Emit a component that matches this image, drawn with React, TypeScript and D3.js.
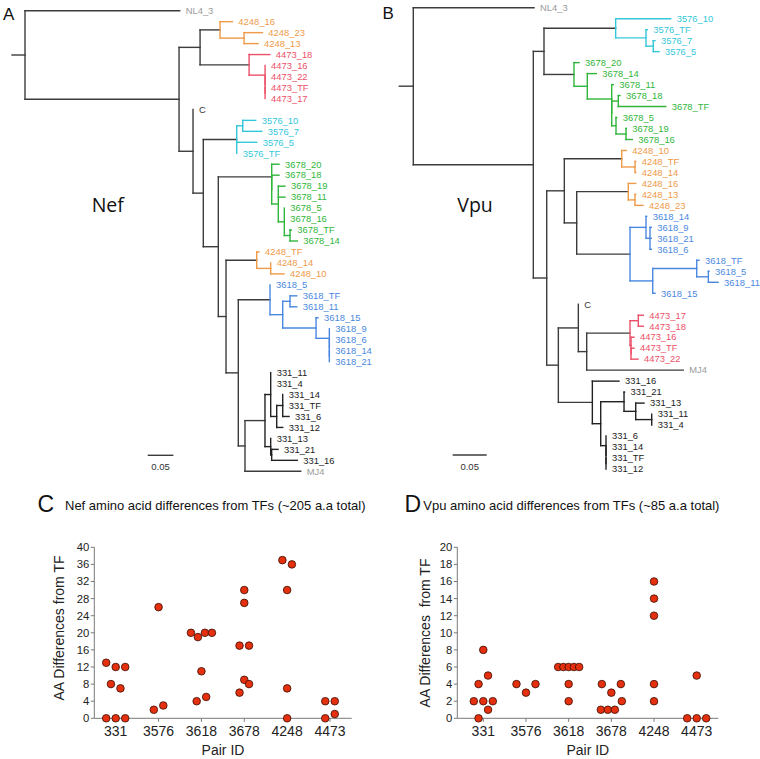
import React from "react";
import * as d3 from "d3";

// ---------- DATA ----------
// Phylogenetic trees (Newick, branch lengths in substitutions/site)
const NEF_TREE =
  "(NL4_3:0.3010,(((4248_16:0.0239,(4248_23:0.0356,4248_13:0.0272):0.0467):0.0389,(4473_18:0.0403,(4473_16:0,(4473_22:0,(4473_TF:0,4473_17:0):0):0):0.0311):0.0954):0.0409,(C:0,(((3576_10:0.0253,3576_7:0.0370):0.0117,3576_5:0.0389,3576_TF:0):0.0650,((3678_20:0.0142,(3678_18:0.0142,(3678_19:0.0130,3678_11:0.0130,(3678_5:0,3678_16:0,(3678_TF:0.0025,3678_14:0.0142):0.0111):0.0117):0.0128):0):0.1039,((4248_TF:0.0045,(4248_14:0,4248_10:0.0259):0.0272):0.0597,((3618_5:0,((3618_TF:0.0130,3618_11:0.0130):0.0142,(3618_15:0.0039,(3618_9:0,(3618_6:0,(3618_14:0,3618_21:0):0):0):0.0259):0.0648):0.0247):0.0617,(((331_11:0,331_4:0,((331_14:0,331_TF:0,331_6:0.0123):0.0117,331_12:0.0117):0.0117):0.0111,(331_13:0,(331_21:0.0123,331_16:0.0498):0.0019):0.0111):0.0389,MJ4:0.1084):0.0130):0.0239):0.0150):0.0292):0.0200):0.0272):0.2997);";

const VPU_TREE =
  "(NL4_3:0.1775,(((3576_10:0.0809,(3576_TF:0.0019,(3576_7:0.0025,3576_5:0.0084):0.0107):0.0446):0.1054,(3678_20:0.0074,(3678_14:0.0132,(3678_11:0.0024,((3678_18:0.0025,3678_TF:0.0697):0.0097,(3678_5:0.0010,(3678_19:0.0004,3678_16:0.0093):0.0147):0.0063):0):0.0359):0.0196):0.0441):0.0157,(((4248_10:0.0068,(4248_TF:0.0010,4248_14:0.0010):0.0196):0.0844,((4248_16:0.0109,(4248_13:0.0010,4248_23:0.0118):0.0098):0.0759,((3618_14:0.0010,(3618_9:0.0019,3618_21:0.0019,3618_6:0.0019):0.0059):0.0235,((3618_TF:0.0034,(3618_5:0.0010,3618_11:0.0143):0.0171):0.0647,3618_15:0.0034):0.0334):0.0784):0.0182):0.0259,((C:0,(((4473_17:0.0074,4473_18:0.0074):0.0122,(4473_16:0.0044,(4473_TF:0.0044,4473_22:0.0103):0):0.0015):0.0637,MJ4:0.1420):0.0123):0.0294,(331_16:0.0392,((331_21:0.0007,(331_13:0.0122,(331_11:0,331_4:0):0.0235):0.0172):0.0343,(331_6:0,(331_14:0,(331_TF:0,331_12:0):0):0):0.0078):0.0123):0.0500):0.0171):0.0197):0.1765);";

const SCALE_BAR = 0.05;

const PAIR_IDS = ["331", "3576", "3618", "3678", "4248", "4473"];
const NEF_DIFFS = [
  [13, 12, 12, 8, 7, 0, 0, 0],
  [26, 2, 3],
  [20, 19, 20, 20, 11, 4, 5],
  [30, 27, 17, 17, 9, 6, 8],
  [37, 36, 30, 7, 0],
  [4, 4, 0, 1],
];
const VPU_DIFFS = [
  [8, 4, 5, 2, 2, 2, 0, 1],
  [4, 3, 4],
  [6, 6, 6, 6, 6, 4, 2],
  [4, 3, 4, 1, 1, 1, 2],
  [16, 14, 12, 4, 2],
  [5, 0, 0, 0],
];
const NEF_TICKS = [0, 4, 8, 12, 16, 20, 24, 28, 32, 36, 40];
const VPU_TICKS = [0, 2, 4, 6, 8, 10, 12, 14, 16, 18, 20];

// ---------- STYLE ----------
const ARIAL = "'Liberation Sans', Arial, Helvetica, sans-serif";
const NAME_FONT = "'Open Sans', 'Noto Sans', sans-serif";
const DARK = "#3c3c3c";
const GROUP_COLORS: Record<string, string> = {
  "4248": "#EE9A48",
  "4473": "#EC5068",
  "3576": "#33C7DA",
  "3678": "#2FB63A",
  "3618": "#4A88E0",
  "331": "#222222",
};
const OUTGROUP_COLOR = "#9a9a9a";

// ---------- NEWICK PARSER ----------
type TNode = { name: string; len: number; children?: TNode[] };
function parseNewick(s: string): TNode {
  let i = 0;
  function node(): TNode {
    const n: TNode = { name: "", len: 0 };
    if (s[i] === "(") {
      i++;
      n.children = [];
      while (true) {
        n.children.push(node());
        if (s[i] === ",") {
          i++;
          continue;
        }
        break;
      }
      i++; // ')'
    }
    let name = "";
    while (i < s.length && !",():;".includes(s[i])) name += s[i++];
    n.name = name.trim();
    if (s[i] === ":") {
      i++;
      let num = "";
      while (i < s.length && !",();".includes(s[i])) num += s[i++];
      n.len = parseFloat(num);
    }
    return n;
  }
  return node();
}

function groupOf(name: string): string | null {
  const g = name.split("_")[0];
  return name.includes("_") && GROUP_COLORS[g] ? g : null;
}

type TreeProps = {
  newick: string;
  rootX: number;
  pxPerUnit: number;
  yTop: number;
  yBottom: number;
  stub: number;
  barX: number;
  barY: number;
  name: string;
  nameX: number;
  nameY: number;
  letter: string;
  letterX: number;
  letterY: number;
};

function Tree(p: TreeProps) {
  const root: any = d3.hierarchy(parseNewick(p.newick), (d: TNode) => d.children);
  root.each((n: any) => {
    n.dist = n.parent ? n.parent.dist + n.data.len : 0;
  });
  const leaves = root.leaves();
  const x = d3.scaleLinear().domain([0, 1]).range([p.rootX, p.rootX + p.pxPerUnit]);
  const y = d3.scaleLinear().domain([0, leaves.length - 1]).range([p.yTop, p.yBottom]);
  leaves.forEach((l: any, i: number) => {
    l.yy = y(i);
    l.group = groupOf(l.data.name);
  });
  root.eachAfter((n: any) => {
    if (n.children) {
      n.yy = (n.children[0].yy + n.children[n.children.length - 1].yy) / 2;
      const gs = new Set(n.leaves().map((l: any) => l.group));
      n.group = gs.size === 1 ? [...gs][0] : null;
    }
  });
  const col = (g: string | null) => (g ? GROUP_COLORS[g] : DARK);
  const lines: any[] = [];
  root.each((n: any) => {
    if (n.parent && n.data.len > 0) {
      lines.push({ x1: x(n.parent.dist), x2: x(n.dist), y1: n.yy, y2: n.yy, c: col(n.parent.group) });
    }
    if (n.children) {
      lines.push({
        x1: x(n.dist),
        x2: x(n.dist),
        y1: n.children[0].yy,
        y2: n.children[n.children.length - 1].yy,
        c: col(n.group),
      });
    }
  });
  lines.push({ x1: x(0) - p.stub, x2: x(0), y1: root.yy, y2: root.yy, c: DARK });
  const labelColor = (l: any) => {
    if (l.group) return GROUP_COLORS[l.group];
    if (l.data.name === "C") return "#333";
    return OUTGROUP_COLOR;
  };
  const barW = x(SCALE_BAR) - x(0);
  return (
    <g>
      {lines.map((l, i) => (
        <line key={i} x1={l.x1} x2={l.x2} y1={l.y1} y2={l.y2} stroke={l.c} strokeWidth={1.4} strokeLinecap="square" />
      ))}
      {leaves.map((l: any, i: number) => (
        <text
          key={i}
          x={x(l.dist) + 6}
          y={l.yy}
          dy="0.35em"
          fontSize={9.4}
          fontFamily={ARIAL}
          fill={labelColor(l)}
        >
          {l.data.name}
        </text>
      ))}
      <line x1={p.barX} x2={p.barX + barW} y1={p.barY} y2={p.barY} stroke={DARK} strokeWidth={1.4} />
      <text x={p.barX + barW / 2} y={p.barY + 15} textAnchor="middle" fontSize={9.5} fontFamily={ARIAL} fill="#333">
        {SCALE_BAR.toFixed(2)}
      </text>
      <text x={p.nameX} y={p.nameY} fontSize={19.5} fontFamily={NAME_FONT} fill="#111">
        {p.name}
      </text>
      <text x={p.letterX} y={p.letterY} fontSize={17} fontFamily={ARIAL} fill="#111">
        {p.letter}
      </text>
    </g>
  );
}

function rowLayout(values: number[], yScale: (v: number) => number) {
  const threshold = 10;
  const order = values.map((v, i) => i).sort((a, b) => values[a] - values[b] || a - b);
  const rows: number[][] = [];
  order.forEach((idx) => {
    const cur = rows[rows.length - 1];
    if (cur && Math.abs(yScale(values[idx]) - yScale(values[cur[0]])) < threshold) cur.push(idx);
    else rows.push([idx]);
  });
  const off = new Array(values.length).fill(0);
  rows.forEach((r) => {
    r.sort((a, b) => a - b);
    const n = r.length;
    const s = n > 1 ? Math.min(9.5, 21 / (n - 1)) : 0;
    r.forEach((idx, k) => {
      off[idx] = (k - (n - 1) / 2) * s;
    });
  });
  return off;
}

type ScatterProps = {
  data: number[][];
  ticks: number[];
  axisX: number;
  axisEnd: number;
  catFirst: number;
  catLast: number;
  yTitle: string;
  yTitleX: number;
  yTitleY: number;
  letter: string;
  letterX: number;
  title: string;
  titleX: number;
};

function Scatter(p: ScatterProps) {
  const yMax = p.ticks[p.ticks.length - 1];
  const y = d3.scaleLinear().domain([0, yMax]).range([718.3, 547.3]);
  const x = d3.scalePoint().domain(PAIR_IDS).range([p.catFirst, p.catLast]);
  const y0 = y(0);
  const axisColor = "#7a7a7a";
  return (
    <g fontFamily={ARIAL}>
      <text x={p.letterX} y={512} fontSize={23} fill="#111">
        {p.letter}
      </text>
      <text x={p.titleX} y={510} fontSize={13} fill="#111">
        {p.title}
      </text>
      <line x1={p.axisX} x2={p.axisX} y1={y0} y2={y(yMax)} stroke={axisColor} strokeWidth={1} />
      {p.ticks.map((t) => (
        <g key={t}>
          <line x1={p.axisX - 3.5} x2={p.axisX} y1={y(t)} y2={y(t)} stroke={axisColor} strokeWidth={1} />
          <text x={p.axisX - 5} y={y(t)} dy="0.35em" textAnchor="end" fontSize={11.3} fill="#222">
            {t}
          </text>
        </g>
      ))}
      <line x1={p.axisX} x2={p.axisEnd} y1={y0} y2={y0} stroke={axisColor} strokeWidth={1} />
      {PAIR_IDS.map((c) => (
        <g key={c}>
          <line x1={x(c)} x2={x(c)} y1={y0} y2={y0 + 3.5} stroke={axisColor} strokeWidth={1} />
          <text x={x(c)} y={y0 + 12.4} dy="0.35em" textAnchor="middle" fontSize={14} fill="#222">
            {c}
          </text>
        </g>
      ))}
      <text x={(p.axisX + p.axisEnd) / 2} y={755} textAnchor="middle" fontSize={14} fill="#222">
        Pair ID
      </text>
      <text
        transform={`translate(${p.yTitleX},${p.yTitleY}) rotate(-90)`}
        dy="0.35em"
        textAnchor="middle"
        fontSize={14}
        fill="#222"
        style={{ whiteSpace: "pre" }}
      >
        {p.yTitle}
      </text>
      {p.data.map((vals, ci) => {
        const off = rowLayout(vals, y);
        return vals.map((v, i) => (
          <circle
            key={ci + "-" + i}
            cx={(x(PAIR_IDS[ci]) as number) + off[i]}
            cy={y(v)}
            r={3.8}
            fill="#E4300F"
            stroke="#3a0c02"
            strokeWidth={0.8}
          />
        ));
      })}
    </g>
  );
}

export default function App() {
  return (
    <svg
      width={760}
      height={759}
      style={{ position: "absolute", left: 0, top: 0, background: "#fff" }}
      xmlns="http://www.w3.org/2000/svg"
    >
      <rect width={760} height={759} fill="#fff" />
      <Tree
        newick={NEF_TREE}
        rootX={25}
        pxPerUnit={514}
        yTop={10.7}
        yBottom={471.3}
        stub={13}
        barX={147.7}
        barY={455.3}
        name="Nef"
        nameX={91.7}
        nameY={211.7}
        letter="A"
        letterX={3}
        letterY={20.3}
      />
      <Tree
        newick={VPU_TREE}
        rootX={413.3}
        pxPerUnit={680}
        yTop={7.7}
        yBottom={469}
        stub={14}
        barX={452.7}
        barY={455}
        name="Vpu"
        nameX={457.3}
        nameY={211.7}
        letter="B"
        letterX={382.5}
        letterY={18.5}
      />
      <Scatter
        data={NEF_DIFFS}
        ticks={NEF_TICKS}
        axisX={94.3}
        axisEnd={351.7}
        catFirst={115.7}
        catLast={330}
        yTitle="AA Differences from TF"
        yTitleX={59.3}
        yTitleY={628}
        letter="C"
        letterX={37.5}
        title="Nef amino acid differences from TFs (~205 a.a total)"
        titleX={65}
      />
      <Scatter
        data={VPU_DIFFS}
        ticks={VPU_TICKS}
        axisX={457.3}
        axisEnd={718.3}
        catFirst={483.3}
        catLast={696.7}
        yTitle="AA Differences  from TF"
        yTitleX={425}
        yTitleY={633}
        letter="D"
        letterX={404.5}
        title="Vpu amino acid differences from TFs (~85 a.a total)"
        titleX={423.3}
      />
    </svg>
  );
}
